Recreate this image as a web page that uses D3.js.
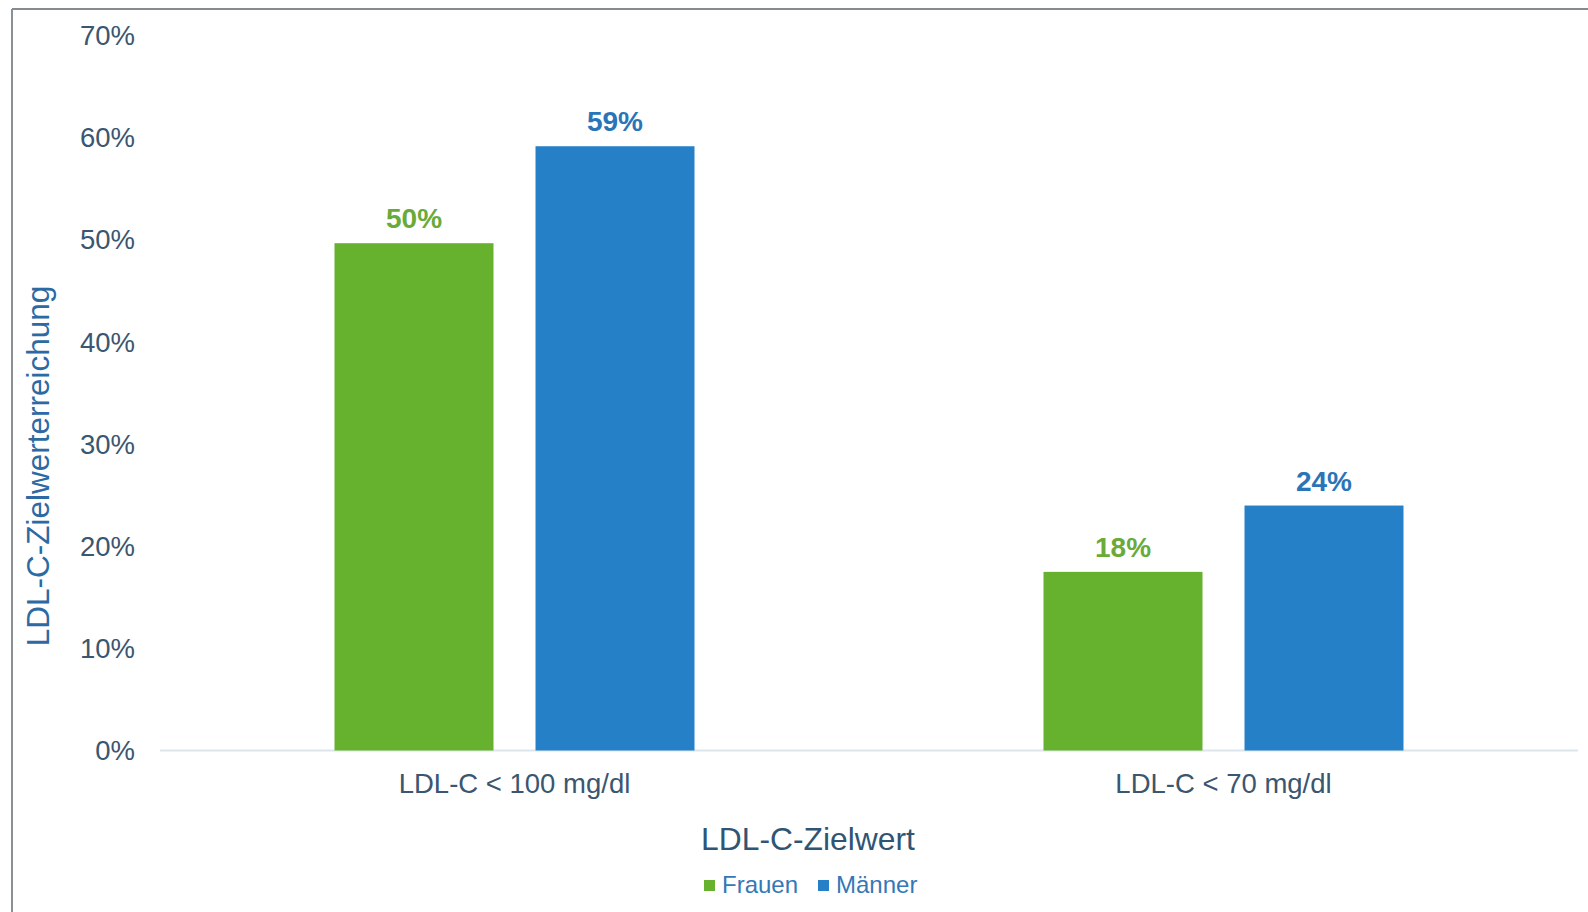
<!DOCTYPE html>
<html>
<head>
<meta charset="utf-8">
<title>LDL-C Zielwerterreichung</title>
<style>
  body { margin: 0; background: #fff; }
  text { font-family: "Liberation Sans", Arial, sans-serif; }
</style>
</head>
<body>
<svg id="chart" width="1588" height="912"></svg>
<script src="https://cdn.jsdelivr.net/npm/d3@7"></script>
<script>
// data
const categories = ["LDL-C < 100 mg/dl", "LDL-C < 70 mg/dl"]
const seriesNames = ["Frauen", "Männer"]
const frauen = [49.7, 17.5]
const maenner = [59.2, 24]
const yTicks = [0, 10, 20, 30, 40, 50, 60, 70]

const colors = { Frauen: "#66b22e", "Männer": "#2680c7" }
const labelColors = { Frauen: "#6aaa38", "Männer": "#2a74b8" }

const rows = categories.map((c, i) => ({ cat: c, Frauen: frauen[i], "Männer": maenner[i] }))

const svg = d3.select("#chart")

// outer frame (right/bottom edges fall off the picture)
svg.append("line").attr("x1", 12).attr("x2", 1588).attr("y1", 9).attr("y2", 9)
   .attr("stroke", "#828c92").attr("stroke-width", 2)
svg.append("line").attr("x1", 12).attr("x2", 12).attr("y1", 9).attr("y2", 912)
   .attr("stroke", "#8a9196").attr("stroke-width", 2)

const plotLeft = 160, plotRight = 1578, plotTop = 36, plotBottom = 750.5

let y = d3.scaleLinear().domain([0, 70]).range([plotBottom, plotTop])
let x0 = d3.scaleBand().domain(categories).range([plotLeft, plotRight]).padding(0)
let x1 = d3.scaleBand().domain(seriesNames).range([-180, 180]).paddingInner(0.209).paddingOuter(0)

// y axis labels
let yAxis = d3.axisLeft(y).tickValues(yTicks).tickFormat(d => d + "%").tickSize(0).tickPadding(0)
let gy = svg.append("g").attr("transform", "translate(135,0)").call(yAxis)
gy.select(".domain").remove()
gy.selectAll("text").attr("font-size", 27.5).attr("fill", "#3a5670")
  .attr("font-family", "'Liberation Sans', Arial, sans-serif")

// baseline
svg.append("line").attr("x1", plotLeft).attr("x2", plotRight).attr("y1", y(0)).attr("y2", y(0))
   .attr("stroke", "#dde6ea").attr("stroke-width", 2)

// bars
let groups = svg.selectAll(".grp").data(rows).join("g")
   .attr("class", "grp")
   .attr("transform", d => "translate(" + (x0(d.cat) + x0.bandwidth() / 2) + ",0)")

groups.selectAll("rect")
   .data(d => seriesNames.map(s => ({ s: s, v: d[s] })))
   .join("rect")
   .attr("x", d => x1(d.s))
   .attr("width", x1.bandwidth())
   .attr("y", d => y(d.v))
   .attr("height", d => y(0) - y(d.v))
   .attr("fill", d => colors[d.s])

groups.selectAll(".val")
   .data(d => seriesNames.map(s => ({ s: s, v: d[s] })))
   .join("text")
   .attr("class", "val")
   .attr("x", d => x1(d.s) + x1.bandwidth() / 2)
   .attr("y", d => y(d.v) - 15)
   .attr("text-anchor", "middle")
   .attr("font-size", 28)
   .attr("font-weight", "bold")
   .attr("fill", d => labelColors[d.s])
   .text(d => Math.round(d.v) + "%")

// category labels
let xAxis = d3.axisBottom(x0).tickSize(0).tickPadding(0)
let gx = svg.append("g").attr("transform", "translate(0,793)").call(xAxis)
gx.select(".domain").remove()
gx.selectAll("text").attr("font-size", 27.5).attr("fill", "#3a5670").attr("dy", 0)
  .attr("font-family", "'Liberation Sans', Arial, sans-serif")

// axis titles
svg.append("text").attr("x", 808).attr("y", 850).attr("text-anchor", "middle")
   .attr("font-size", 31.8).attr("fill", "#2f5574").text("LDL-C-Zielwert")

svg.append("text").attr("transform", "translate(49,466) rotate(-90)")
   .attr("text-anchor", "middle").attr("font-size", 31.5).attr("fill", "#2b6aa3")
   .text("LDL-C-Zielwerterreichung")

// legend
let legendX = d3.scaleOrdinal().domain(seriesNames).range([704, 818])
let leg = svg.selectAll(".leg").data(seriesNames).join("g")
   .attr("class", "leg")
   .attr("transform", d => "translate(" + legendX(d) + ",885)")
leg.append("rect").attr("x", 0).attr("y", -5).attr("width", 11).attr("height", 11)
   .attr("fill", d => colors[d])
leg.append("text").attr("x", 18).attr("y", 8).attr("font-size", 24)
   .attr("fill", "#3578b6").text(d => d)
</script>
</body>
</html>
